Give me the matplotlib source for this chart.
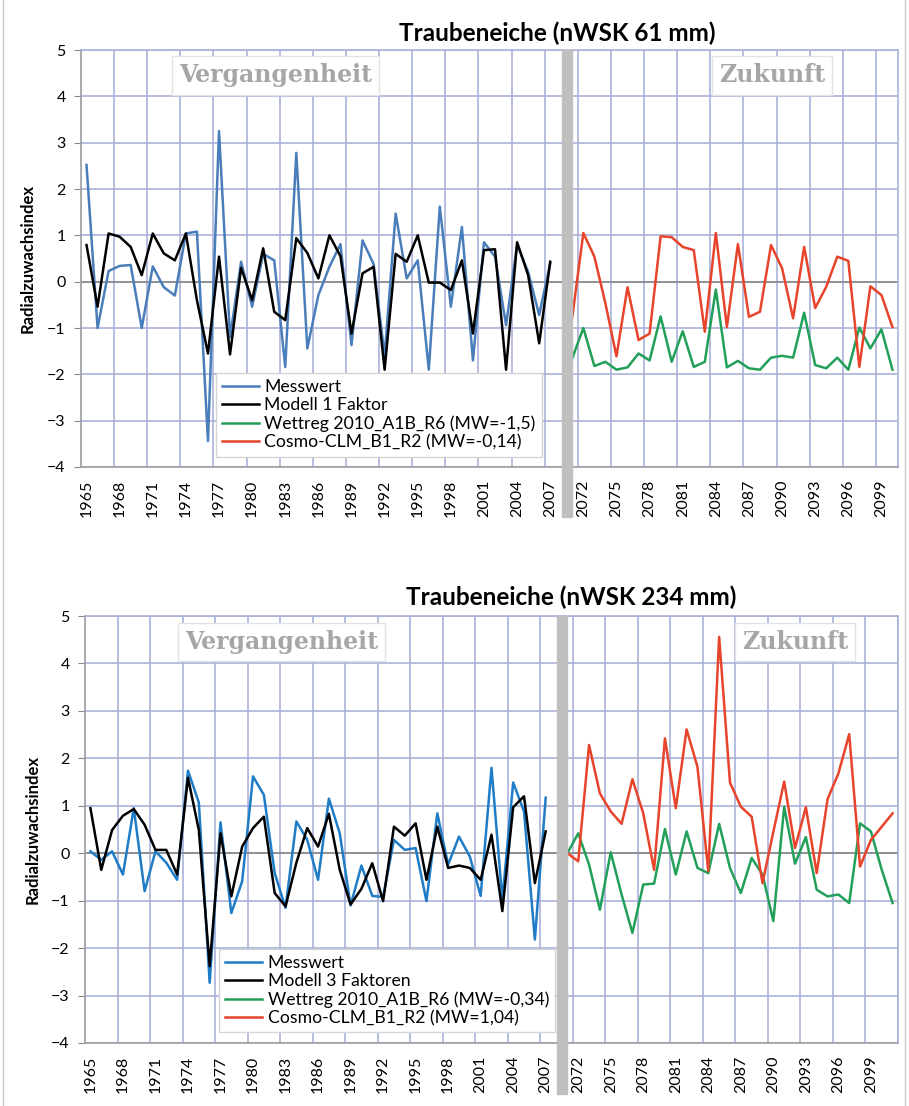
import numpy as np
import matplotlib.pyplot as plt
import matplotlib.transforms as mtransforms
from matplotlib.patches import Rectangle

plt.rcParams['font.family'] = ['Lato', 'DejaVu Sans']

# data
past_years = list(range(1965, 2008))
future_years_a = list(range(2071, 2101))
future_years_b = list(range(2071, 2102))

# panel 1: nWSK 61 mm
mess_a = [2.52, -1.0, 0.23, 0.34, 0.36, -1.0, 0.33, -0.12, -0.3, 1.04,
          1.08, -3.44, 3.25, -1.2, 0.43, -0.54, 0.6, 0.46, -1.84, 2.78,
          -1.44, -0.29, 0.32, 0.81, -1.37, 0.89, 0.38, -1.6, 1.47, 0.07,
          0.46, -1.9, 1.62, -0.54, 1.18, -1.7, 0.85, 0.54, -0.94, 0.8,
          0.21, -0.72, 0.4]
modell_a = [0.79, -0.54, 1.04, 0.97, 0.75, 0.14, 1.04, 0.61, 0.46, 1.04,
            -0.4, -1.55, 0.54, -1.57, 0.3, -0.4, 0.72, -0.65, -0.83, 0.94,
            0.62, 0.07, 1.0, 0.55, -1.12, 0.18, 0.32, -1.9, 0.6, 0.43,
            1.0, -0.02, -0.02, -0.18, 0.46, -1.12, 0.68, 0.7, -1.9, 0.85,
            0.14, -1.33, 0.43]
wettreg_a = [-1.65, -1.0, -1.82, -1.73, -1.9, -1.85, -1.55, -1.7, -0.75, -1.73,
             -1.07, -1.84, -1.73, -0.17, -1.85, -1.71, -1.87, -1.9, -1.64, -1.6,
             -1.64, -0.67, -1.8, -1.87, -1.64, -1.9, -0.99, -1.44, -1.03, -1.9]
cosmo_a = [-0.76, 1.05, 0.54, -0.47, -1.61, -0.12, -1.26, -1.12, 0.98, 0.96,
           0.75, 0.68, -1.08, 1.05, -0.98, 0.81, -0.76, -0.65, 0.79, 0.29,
           -0.79, 0.75, -0.57, -0.11, 0.54, 0.45, -1.84, -0.1, -0.29, -0.98]

# panel 2: nWSK 234 mm
mess_b = [0.04, -0.14, 0.04, -0.45, 0.95, -0.8, 0.04, -0.2, -0.56, 1.74,
          1.07, -2.73, 0.65, -1.26, -0.59, 1.62, 1.23, -0.42, -1.15, 0.67,
          0.28, -0.56, 1.15, 0.42, -1.1, -0.26, -0.9, -0.92, 0.28, 0.07,
          0.11, -1.01, 0.84, -0.24, 0.35, -0.07, -0.9, 1.8, -0.98, 1.49,
          0.88, -1.82, 1.17]
modell_b = [0.95, -0.35, 0.49, 0.79, 0.93, 0.6, 0.07, 0.07, -0.45, 1.59,
            0.49, -2.38, 0.42, -0.91, 0.14, 0.53, 0.77, -0.84, -1.12, -0.2,
            0.53, 0.14, 0.83, -0.35, -1.08, -0.75, -0.21, -1.01, 0.56, 0.37,
            0.63, -0.56, 0.56, -0.31, -0.26, -0.31, -0.56, 0.39, -1.22, 0.97,
            1.2, -0.63, 0.46]
wettreg_b = [0.0, 0.42, -0.24, -1.19, 0.02, -0.87, -1.68, -0.66, -0.64, 0.51,
             -0.45, 0.46, -0.31, -0.42, 0.62, -0.31, -0.84, -0.1, -0.45, -1.43,
             0.98, -0.22, 0.34, -0.77, -0.91, -0.87, -1.05, 0.63, 0.46, -0.35,
             -1.05]
cosmo_b = [0.0, -0.17, 2.28, 1.26, 0.88, 0.62, 1.56, 0.84, -0.35, 2.42,
           0.95, 2.61, 1.82, -0.38, 4.56, 1.49, 0.98, 0.77, -0.63, 0.45,
           1.51, 0.11, 0.97, -0.42, 1.14, 1.68, 2.51, -0.28, 0.28, 0.56,
           0.84]

GRID = '#aab1da'


def draw_panel(ax, mess, modell, wettreg, cosmo, fut_years, mess_col, labels,
               past_x, fut_x):
    npast = len(past_years)
    xs_past = np.arange(npast)
    xs_fut = np.arange(npast + 1, npast + 1 + len(fut_years))
    n = npast + 1 + len(fut_years)

    l1, = ax.plot(xs_past, mess, color=mess_col, lw=1.8, zorder=3)
    l2, = ax.plot(xs_past, modell, color='black', lw=1.8, zorder=3)
    l3, = ax.plot(xs_fut, wettreg, color='#22a05a', lw=1.8, zorder=3)
    l4, = ax.plot(xs_fut, cosmo, color='#e8432b', lw=1.8, zorder=3)

    ax.set_xlim(-0.5, n - 0.5)
    ax.set_ylim(-4, 5)
    ax.set_yticks(range(-4, 6))
    ax.tick_params(axis='y', labelsize=11.5, length=5, color='#888888', pad=6)

    # category ticks every 3 years
    all_labels = [str(y) for y in past_years] + [''] + [str(y) for y in fut_years]
    pos = [i for i in range(0, n, 3) if all_labels[i]]
    ax.set_xticks(pos)
    ax.set_xticklabels([all_labels[i] for i in pos], rotation=90, fontsize=11.5)
    ax.tick_params(axis='x', length=0, pad=9)
    ax.set_xticks(np.arange(-0.5, n, 3), minor=True)
    ax.tick_params(axis='x', which='minor', length=0)

    ax.grid(True, axis='y', which='major', color=GRID, lw=1.2, zorder=0)
    ax.grid(True, axis='x', which='minor', color=GRID, lw=1.2, zorder=0)
    ax.axhline(0, color='#8a8a8a', lw=1.2, zorder=1)
    ax.set_axisbelow(True)
    for s in ['top', 'right']:
        ax.spines[s].set_color(GRID)
        ax.spines[s].set_linewidth(1.2)
    for s in ['left', 'bottom']:
        ax.spines[s].set_color('#a0a0a0')
        ax.spines[s].set_linewidth(1.2)

    # separator between past and future
    trans = mtransforms.blended_transform_factory(ax.transData, ax.transAxes)
    ax.add_patch(Rectangle((npast + 0.07, -0.12), 0.86, 1.12, transform=trans,
                           color='#bfbfbf', clip_on=False, zorder=4))

    ax.set_ylabel('Radialzuwachsindex', fontsize=12, fontweight='bold')
    ax.yaxis.set_label_coords(-0.055, 0.5)

    box = dict(boxstyle='square,pad=0.3', fc='white', ec='#e3e3e3', lw=1)
    ax.text(past_x, 4.45, 'Vergangenheit', family='DejaVu Serif', fontweight='bold',
            fontsize=17, color='#a6a6a6', ha='center', va='center', bbox=box, zorder=5)
    ax.text(fut_x, 4.45, 'Zukunft', family='DejaVu Serif', fontweight='bold',
            fontsize=17, color='#a6a6a6', ha='center', va='center', bbox=box, zorder=5)

    leg = ax.legend([l1, l2, l3, l4], labels, loc='lower left',
                    bbox_to_anchor=(0.165, 0.025), fontsize=12.7, frameon=True,
                    fancybox=False, framealpha=1, edgecolor='#d4d4d4',
                    handlelength=2.1, handletextpad=0.3, labelspacing=0.12,
                    borderpad=0.35, borderaxespad=0)
    leg.set_zorder(6)


fig = plt.figure(figsize=(9.09, 11.06), dpi=100)
ax1 = fig.add_axes([81 / 909, 1 - 467 / 1106, 817 / 909, 417 / 1106])
ax2 = fig.add_axes([85 / 909, 1 - 1043 / 1106, 813 / 909, 427 / 1106])

draw_panel(ax1, mess_a, modell_a, wettreg_a, cosmo_a, future_years_a, '#4a7ebb',
           ['Messwert', 'Modell 1 Faktor', 'Wettreg 2010_A1B_R6 (MW=-1,5)',
            'Cosmo-CLM_B1_R2 (MW=-0,14)'], 17.1, 62.1)
draw_panel(ax2, mess_b, modell_b, wettreg_b, cosmo_b, future_years_b, '#1f7cc6',
           ['Messwert', 'Modell 3 Faktoren', 'Wettreg 2010_A1B_R6 (MW=-0,34)',
            'Cosmo-CLM_B1_R2 (MW=1,04)'], 17.6, 65.0)

fig.text(557 / 909, 1 - 33 / 1106, 'Traubeneiche (nWSK 61 mm)', fontsize=17.5,
         fontweight='bold', ha='center', va='center')
fig.text(571 / 909, 1 - 597 / 1106, 'Traubeneiche (nWSK 234 mm)', fontsize=17.5,
         fontweight='bold', ha='center', va='center')

# thin page frame at the sides
fig.add_artist(plt.Line2D([0.003, 0.003], [0, 1], color='#c8c8c8', lw=1))
fig.add_artist(plt.Line2D([0.996, 0.996], [0, 1], color='#c8c8c8', lw=1))

fig.savefig('out.png', dpi=100)
